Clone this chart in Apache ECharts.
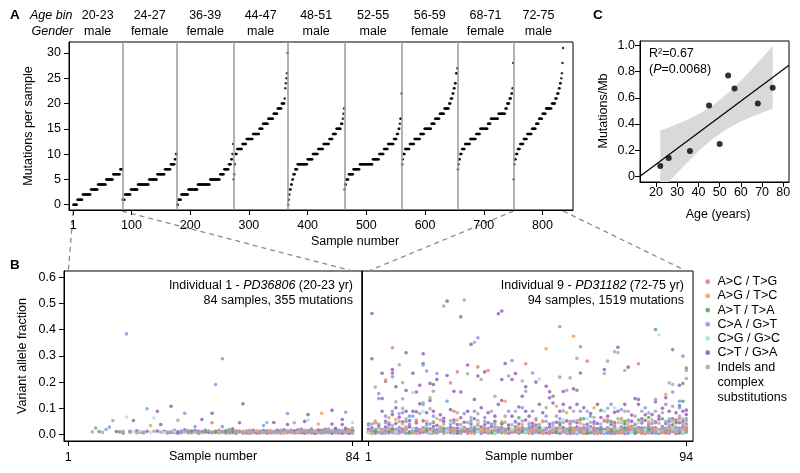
<!DOCTYPE html>
<html><head><meta charset="utf-8">
<script src="https://cdn.jsdelivr.net/npm/echarts@6/dist/echarts.min.js"></script>
<style>html,body{margin:0;padding:0;background:#fff}#c{width:800px;height:473px}</style>
</head><body><div id="c"></div>
<script>
// ================= DATA =================
// Panel A: age bins / genders per individual
const ageBins = ['20-23','24-27','36-39','44-47','48-51','52-55','56-59','68-71','72-75'];
const genders = ['male','female','female','male','male','male','female','female','male'];
// Panel A: sorted mutations per sample as run lengths [mutations, number of samples]
const runs1 = [[0,7],[1,9],[2,14],[3,12],[4,14],[5,12],[6,12],[7,4]];
const runs2 = [[1,4],[2,10],[3,12],[4,19],[5,14],[6,13],[7,10],[8,7],[9,2],[10,2]];
const runs3 = [[0,2],[1,5],[2,12],[3,16],[4,21],[5,17],[6,7],[7,8],[8,4],[9,2],[10,1],[12,1]];
const runs4 = [[5,1],[6,1],[8,1],[10,3],[11,9],[12,7],[13,11],[14,11],[15,6],[16,9],[17,9],[18,7],[19,7],[20,5],[21,1],[23,1],[24,1],[25,1],[26,1],[30,1]];
const runs5 = [[0,1],[1,1],[2,1],[3,2],[4,2],[5,2],[6,3],[7,4],[8,17],[9,9],[10,9],[11,9],[12,10],[13,6],[14,6],[15,8],[16,3],[17,1],[18,1],[19,1]];
const runs6 = [[3,1],[4,2],[5,4],[6,8],[7,11],[8,22],[9,11],[10,8],[11,7],[12,10],[13,5],[14,3],[15,2],[16,1],[17,2],[22,1]];
const runs7 = [[8,1],[9,1],[10,3],[11,8],[12,8],[13,10],[14,7],[15,12],[16,6],[17,8],[18,8],[19,8],[20,3],[21,3],[22,2],[23,2],[24,2],[26,2],[27,1]];
const runs8 = [[7,1],[8,1],[9,2],[10,3],[11,5],[12,9],[13,10],[14,7],[15,13],[16,5],[17,13],[18,12],[19,3],[20,4],[21,3],[22,2],[23,1],[28,1]];
const runs9 = [[5,1],[8,1],[9,2],[10,3],[11,4],[12,6],[13,6],[14,8],[15,7],[16,5],[17,6],[18,6],[19,10],[20,6],[21,3],[22,3],[23,2],[24,2],[25,1],[26,1],[28,1],[31,1]];
const xTicksA = [1,100,200,300,400,500,600,700,800];
const yTicksA = [0,5,10,15,20,25,30];

// Panel B: individual 1 [sample, VAF] per mutation class
const ind1AC = [[43,.045],[51,.013]];
const ind1AG = [[25,.034],[45,.013],[54,.008],[56,.014],[60,.012],[64,.008],[68,.01],[73,.012],[74,.04],[75,.081],[83,.013]];
const ind1AT = [[10,.011],[16,.01],[37,.013],[41,.009],[44,.01],[47,.012],[49,.012]];
const ind1CA = [[9,.025],[12,.019],[13,.028],[18,.384],[24,.098],[34,.013],[35,.081],[38,.03],[44,.191],[46,.289],[46,.03],[57,.012],[58,.034],[59,.014],[61,.01],[63,.016],[65,.08],[66,.011],[69,.013],[70,.01],[72,.022],[76,.016],[79,.013],[81,.011],[82,.085]];
const ind1CG = [[18,.067],[20,.01],[22,.012],[25,.008],[26,.063],[29,.007],[32,.012],[71,.055],[84,.046]];
const ind1CT = [[15,.011],[17,.006],[19,.012],[20,.053],[21,.014],[22,.009],[23,.007],[24,.012],[27,.089],[27,.013],[28,.038],[29,.012],[30,.006],[31,.108],[31,.008],[32,.016],[33,.01],[33,.005],[34,.009],[35,.018],[36,.007],[36,.014],[37,.01],[38,.015],[39,.012],[39,.005],[40,.057],[40,.011],[41,.016],[42,.008],[42,.011],[43,.081],[43,.007],[44,.012],[45,.009],[45,.016],[46,.011],[47,.014],[47,.006],[48,.009],[48,.018],[49,.022],[49,.007],[50,.012],[50,.005],[51,.045],[51,.011],[52,.117],[52,.007],[53,.01],[53,.006],[54,.012],[54,.005],[55,.011],[55,.016],[56,.009],[56,.006],[57,.01],[57,.006],[58,.011],[58,.015],[59,.012],[59,.005],[60,.01],[60,.007],[61,.046],[61,.009],[62,.013],[62,.016],[62,.01],[63,.011],[63,.006],[64,.012],[64,.018],[65,.038],[65,.008],[66,.01],[66,.016],[67,.011],[67,.006],[67,.014],[68,.012],[68,.017],[69,.01],[69,.007],[69,.02],[70,.05],[70,.008],[70,.005],[71,.076],[71,.009],[71,.015],[72,.016],[72,.012],[72,.006],[73,.01],[73,.007],[73,.004],[74,.013],[74,.017],[74,.01],[75,.012],[75,.016],[75,.006],[76,.011],[76,.007],[76,.02],[77,.009],[77,.017],[77,.011],[78,.092],[78,.04],[78,.008],[78,.005],[79,.012],[79,.018],[79,.024],[80,.01],[80,.007],[80,.016],[81,.057],[81,.038],[81,.008],[81,.005],[82,.013],[82,.017],[82,.024],[83,.01],[83,.007],[83,.018],[83,.004],[84,.012],[84,.016],[84,.01]];
const ind1ID = [[8,.01],[11,.008],[14,.053],[17,.012],[19,.008],[21,.006],[23,.01],[26,.012],[28,.009],[30,.01],[31,.011],[32,.007],[33,.054],[34,.006],[35,.01],[36,.012],[37,.006],[38,.009],[39,.008],[40,.007],[41,.012],[42,.014],[43,.01],[44,.008],[45,.006],[46,.008],[47,.01],[48,.013],[48,.005],[49,.01],[50,.008],[50,.015],[51,.009],[52,.012],[52,.005],[53,.014],[53,.009],[54,.016],[55,.007],[55,.01],[56,.012],[57,.013],[57,.008],[58,.007],[58,.01],[59,.046],[59,.008],[60,.015],[60,.011],[61,.012],[61,.006],[62,.009],[62,.006],[63,.008],[63,.013],[64,.01],[64,.005],[65,.011],[65,.014],[66,.007],[66,.012],[67,.045],[67,.008],[68,.009],[68,.006],[69,.014],[69,.011],[70,.012],[70,.016],[71,.013],[71,.006],[72,.011],[72,.008],[73,.015],[73,.011],[74,.009],[74,.006],[75,.008],[75,.013],[76,.014],[76,.01],[77,.013],[77,.006],[77,.021],[78,.011],[78,.015],[79,.009],[79,.006],[80,.014],[80,.011],[80,.005],[81,.012],[81,.016],[82,.009],[82,.006],[82,.012],[83,.014],[83,.011],[84,.025],[84,.008],[84,.005]];

// Panel B: individual 9 [sample, VAF] per mutation class
const ind9AC = [[4,.014],[11,.022],[16,.008],[25,.018],[30,.01],[35,.025],[44,.012],[49,.02],[54,.006],[63,.016],[67,.024],[73,.009],[77,.019],[81,.013],[84,.025],[88,.007],[94,.017],[8,.331],[25,.197],[27,.239],[33,.258],[36,.244],[47,.27],[65,.28],[80,.27],[26,.089],[50,.06],[60,.05],[71,.055],[85,.045],[92,.06],[40,.045],[15,.05]];
const ind9AG = [[2,.004],[5,.015],[7,.02],[9,.01],[12,.024],[14,.006],[17,.018],[19,.011],[22,.027],[24,.008],[26,.016],[29,.022],[31,.005],[34,.019],[36,.012],[38,.025],[41,.007],[43,.017],[45,.028],[48,.01],[50,.021],[52,.006],[55,.014],[57,.026],[59,.009],[61,.019],[64,.012],[66,.024],[68,.005],[71,.017],[73,.022],[75,.01],[78,.027],[80,.014],[82,.006],[85,.02],[87,.012],[89,.025],[91,.008],[93,.018],[6,.209],[53,.327],[61,.375],[88,.153],[54,.625],[7,.064],[9,.057],[21,.061],[41,.127],[56,.108],[59,.083],[67,.102],[74,.045],[75,.062],[3,.045],[11,.04],[18,.05],[27,.055],[33,.042],[40,.048],[46,.038],[52,.05],[63,.043],[70,.055],[77,.04],[83,.048],[90,.052],[94,.036]];
const ind9AT = [[3,.012],[8,.02],[13,.007],[18,.016],[23,.024],[27,.01],[32,.018],[37,.006],[42,.022],[46,.013],[51,.027],[56,.009],[60,.017],[65,.005],[69,.021],[72,.012],[76,.026],[79,.008],[83,.018],[86,.011],[90,.023],[92,.006],[85,.401],[90,.324],[94,.254],[93,.195],[93,.127],[62,.169],[55,.146],[45,.064],[69,.092],[64,.06],[72,.05],[57,.045],[40,.04],[80,.055],[87,.06],[91,.045],[83,.065],[76,.05]];
const ind9CA = [[4,.156],[4,.137],[8,.22],[17,.265],[18,.242],[21,.233],[17,.115],[24,.127],[33,.369],[43,.282],[42,.223],[49,.235],[57,.411],[57,.219],[63,.335],[90,.162],[92,.127],[93,.299],[6,.07],[8,.089],[10,.079],[11,.083],[13,.07],[14,.07],[20,.07],[29,.079],[32,.089],[35,.065],[42,.089],[46,.102],[49,.089],[53,.07],[57,.06],[63,.089],[66,.07],[72,.115],[75,.095],[82,.102],[88,.115],[92,.102],[94,.06],[2,.04],[7,.045],[12,.05],[19,.04],[26,.045],[31,.052],[37,.04],[44,.05],[48,.038],[55,.045],[61,.05],[67,.04],[71,.048],[77,.055],[84,.042],[89,.05]];
const ind9CG = [[1,.006],[4,.018],[9,.01],[14,.022],[19,.008],[24,.015],[28,.026],[33,.012],[38,.006],[43,.02],[47,.01],[52,.025],[57,.014],[62,.007],[66,.019],[70,.011],[74,.024],[78,.008],[82,.017],[86,.012],[90,.022],[93,.009],[14,.16],[86,.38],[51,.212],[17,.089],[70,.089],[73,.102],[65,.06],[75,.05],[80,.045],[33,.05],[25,.045],[58,.055]];
const ind9CT = [[2,.462],[2,.289],[5,.234],[6,.203],[5,.137],[8,.248],[8,.235],[9,.182],[12,.312],[12,.168],[14,.234],[16,.188],[17,.308],[17,.271],[19,.195],[20,.191],[21,.21],[15,.162],[19,.13],[24,.509],[28,.449],[24,.225],[26,.165],[28,.162],[30,.265],[31,.344],[33,.223],[35,.239],[32,.134],[39,.461],[40,.471],[41,.271],[40,.21],[44,.233],[43,.21],[47,.182],[50,.2],[53,.184],[54,.163],[63,.235],[61,.174],[58,.164],[74,.333],[70,.248],[77,.257],[92,.188],[94,.093],[88,.14],[85,.125],[80,.134],[79,.137],
[5,.089],[8,.076],[9,.102],[10,.066],[12,.089],[13,.053],[14,.089],[15,.087],[16,.117],[18,.083],[20,.089],[22,.075],[23,.062],[25,.095],[28,.064],[30,.089],[32,.06],[34,.102],[36,.083],[38,.07],[39,.115],[40,.13],[43,.07],[45,.105],[46,.146],[47,.089],[48,.07],[51,.115],[52,.083],[54,.14],[55,.12],[57,.089],[58,.115],[60,.102],[62,.115],[64,.102],[66,.08],[68,.115],[69,.065],[71,.07],[73,.085],[74,.089],[76,.115],[78,.074],[80,.115],[81,.06],[82,.075],[84,.076],[86,.07],[87,.1],[89,.089],[91,.083],[93,.089],[94,.076],[90,.06],[92,.11],
[1,.04],[3,.045],[4,.035],[6,.05],[7,.038],[9,.042],[11,.048],[13,.036],[15,.044],[17,.052],[18,.04],[20,.046],[21,.035],[23,.05],[25,.041],[26,.055],[27,.038],[29,.047],[31,.04],[33,.052],[35,.037],[36,.045],[38,.05],[40,.042],[42,.036],[44,.048],[45,.04],[47,.055],[49,.043],[50,.036],[52,.05],[54,.04],[56,.047],[57,.036],[59,.052],[60,.041],[62,.045],[63,.056],[65,.039],[67,.048],[68,.042],[70,.052],[72,.038],[73,.046],[75,.055],[76,.04],[78,.05],[79,.037],[81,.044],[82,.054],[83,.04],[85,.048],[86,.058],[88,.042],[89,.05],[90,.037],[91,.055],[92,.045],[93,.05],[94,.04]];
const ind9ID = [[3,.181],[10,.266],[11,.198],[9,.125],[11,.136],[17,.121],[19,.14],[20,.165],[23,.49],[29,.513],[30,.232],[32,.352],[34,.21],[46,.204],[62,.291],[60,.216],[59,.169],[71,.28],[73,.316],[74,.312],[70,.233],[76,.244],[94,.244],[94,.214],[89,.197],[90,.191],[85,.134],[38,.146],[47,.165],
[3,.051],[11,.099],[12,.06],[16,.08],[19,.098],[22,.055],[27,.083],[31,.065],[33,.079],[37,.089],[41,.07],[44,.089],[50,.055],[53,.102],[56,.07],[58,.09],[61,.089],[63,.06],[65,.089],[67,.065],[71,.1],[74,.06],[76,.089],[77,.089],[79,.07],[81,.089],[83,.083],[85,.089],[87,.083],[89,.06],[90,.108],[92,.07],[93,.06],
[1,.035],[4,.04],[6,.045],[8,.035],[10,.05],[13,.04],[15,.055],[18,.036],[20,.048],[23,.04],[25,.052],[28,.038],[30,.046],[33,.035],[35,.05],[38,.04],[41,.047],[43,.037],[46,.052],[48,.044],[51,.038],[53,.05],[55,.035],[58,.046],[60,.04],[62,.053],[64,.036],[66,.047],[69,.04],[71,.05],[73,.036],[75,.045],[77,.052],[79,.04],[81,.05],[83,.037],[84,.055],[86,.043],[88,.05],[89,.036],[91,.048],[93,.04],[94,.053]];
// Panel B: individual 9 low-VAF band, one entry per sample (sample = index + 1)
const ind9LowCT = [[.008,.02],[.012,.026],[.006,.016],[.01,.024],[.005,.018],[.011,.028],[.007,.015],[.013,.022],[.006,.019],[.009,.027],
[.012,.017],[.005,.021],[.01,.029],[.007,.014],[.012,.024],[.006,.019],[.009,.026],[.013,.016],[.005,.022],[.01,.03],
[.008,.018],[.012,.025],[.006,.015],[.011,.021],[.007,.028],[.013,.018],[.005,.024],[.009,.016],[.012,.027],[.006,.02],
[.01,.015],[.007,.025],[.013,.019],[.005,.028],[.01,.017],[.008,.023],[.012,.03],[.006,.016],[.011,.021],[.007,.026],
[.013,.018],[.005,.024],[.009,.015],[.012,.029],[.006,.02],[.01,.026],[.008,.017],[.012,.023],[.005,.03],[.011,.019],
[.007,.025],[.013,.016],[.006,.022],[.01,.028],[.008,.018],[.012,.024],[.005,.015],[.011,.027],[.007,.02],[.013,.026,.004],
[.006,.017,.023],[.01,.028,.004],[.008,.019,.014],[.012,.025,.005],[.005,.021,.016],[.011,.029,.007],[.007,.018,.024],[.013,.022,.004],[.006,.027,.015],[.01,.02,.005],
[.008,.026,.016],[.012,.018,.004],[.005,.023,.029],[.011,.016,.007],[.007,.028,.02],[.013,.021,.004],[.006,.025,.017],[.01,.03,.014],[.008,.019,.005],[.012,.027,.022],
[.005,.017,.024],[.011,.022,.004],[.007,.029,.015],[.013,.019,.006],[.006,.026,.021],[.01,.016,.004],[.008,.024,.03],[.012,.02,.006],[.005,.028,.016],[.011,.018,.023],
[.007,.025,.004],[.013,.021,.016],[.006,.029,.009],[.01,.019,.024]];
const ind9LowID = [[.01],[.015,.004],[.02],[.007,.025],[.012],[.004,.018],[.022],[.009,.014],[.016],[.005,.027],
[.011],[.019,.006],[.008],[.024,.013],[.004],[.017,.01],[.026],[.007,.015],[.012],[.02,.005],
[.009],[.014,.028],[.006],[.021,.011],[.016],[.004,.025],[.013],[.008,.019],[.023],[.01,.006],
[.017],[.005,.028],[.012],[.02,.009],[.015],[.006,.024],[.011],[.018,.004],[.027],[.008,.014],
[.021],[.005,.016],[.012],[.025,.009],[.007],[.018,.013],[.022],[.004,.015],[.01],[.026,.007],
[.014,.02],[.006,.011],[.019,.025],[.009,.004],[.016,.022],[.012,.006],[.024,.017],[.008,.013],[.02,.005],[.015,.027],
[.005,.012],[.021,.018],[.01,.026],[.016,.006],[.007,.023],[.013,.019],[.025,.004],[.009,.015],[.018,.022],[.006,.011],
[.022,.017],[.011,.005],[.017,.024],[.005,.013],[.02,.028],[.012,.008],[.026,.016],[.008,.021],[.015,.004],[.023,.012],
[.006,.018],[.019,.025],[.011,.007],[.025,.015],[.009,.021],[.016,.005],[.013,.027],[.021,.01],[.007,.017],[.024,.012],
[.01,.028],[.018,.006],[.014,.022],[.027,.009]];
const ind9LowCA = [[.012],[.018],[.006],[.022],[.009],[.015],[.025],[.007],[.013],[.019],
[.01],[.028],[.005],[.016],[.021],[.008],[.014],[.024],[.011],[.017],
[.006],[.027],[.012],[.019],[.009],[.023],[.015],[.005],[.02],[.013],
[.026],[.008],[.017],[.011],[.022],[.006],[.014],[.029],[.01],[.018],
[.007],[.024],[.013],[.016],[.005],[.021],[.011],[.027],[.008],[.015],
[.019],[.006],[.023],[.012],[.017],[.009],[.025],[.014],[.007],[.02,.011],
[.013,.024],[.005,.018],[.016,.01],[.022,.007],[.011,.027],[.019,.014],[.008,.023],[.015,.006],[.026,.012],[.01,.018],
[.017,.005],[.021,.013],[.007,.025],[.014,.009],[.024,.016],[.012,.02],[.006,.028],[.018,.011],[.023,.008],[.009,.015],
[.02,.026],[.013,.006],[.027,.017],[.011,.022],[.016,.008],[.005,.019],[.022,.013],[.015,.025],[.008,.011],[.019,.024],
[.012,.006],[.025,.016],[.01,.021],[.017,.013]];
const classNames = ['A>C / T>G','A>G / T>C','A>T / T>A','C>A / G>T','C>G / G>C','C>T / G>A','Indels and complex substitutions'];

// Panel C
const ages = [22,26,36,45,50,54,57,68,75];
const mutPerMb = [0.079,0.14,0.194,0.541,0.247,0.77,0.671,0.556,0.676];
const fitX = [12.46,82.69];
const fitY = [0.0,0.849];
const bandX = [22,26,30,35,40,45,48,52,56,60,65,70,75];
const bandUpper = [0.35,0.373,0.399,0.434,0.475,0.523,0.557,0.609,0.667,0.73,0.816,0.904,0.996];
const bandLower = [-0.12,-0.047,0.025,0.11,0.191,0.263,0.301,0.347,0.385,0.418,0.454,0.486,0.516];

// ================= STYLE =================
const FF = 'Liberation Sans, Arial, Helvetica, sans-serif';
const FS = 12.5;
const classColors = ['#E8837D','#F6A45A','#5FA65F','#7E9DEA','#A8E5E5','#9A5FBD','#A9A9A9'];

// ================= BUILD =================
const allRuns = [runs1,runs2,runs3,runs4,runs5,runs6,runs7,runs8,runs9];
const dataA = [];
const bounds = [];
let s = 1;
allRuns.forEach(runs => {
  const start = s;
  runs.forEach(([v,n]) => { for (let k=0;k<n;k++){ dataA.push([s,v]); s++; } });
  bounds.push([start, s-1]);
});
const sepLines = bounds.slice(0,-1).map(b => ({xAxis: b[1]+0.5}));

function expandLow(arr){ const out=[]; arr.forEach((vals,i)=>vals.forEach(v=>out.push([i+1,v]))); return out; }
const ind1Sets = [ind1AC,ind1AG,ind1AT,ind1CA,ind1CG,ind1CT,ind1ID];
const ind9Sets = [ind9AC,ind9AG,ind9AT,ind9CA.concat(expandLow(ind9LowCA)),ind9CG,ind9CT.concat(expandLow(ind9LowCT)),ind9ID.concat(expandLow(ind9LowID))];
const drawOrder = [5,3,6,0,1,2,4];

function axisCommon(extra){
  return Object.assign({
    type:'value', splitLine:{show:false},
    axisLine:{show:true, onZero:false, lineStyle:{color:'#000', width:1}},
    axisTick:{show:true, length:5, inside:false, lineStyle:{color:'#000', width:1}},
    axisLabel:{color:'#000', fontSize:FS, fontFamily:FF},
  }, extra);
}
function ax(min,max,ticks,margin,fmt,gridIndex,hide){
  const a = axisCommon({gridIndex, min, max});
  if (hide){ a.axisTick = {show:false}; a.axisLabel = {show:false}; return a; }
  a.axisTick = Object.assign({}, a.axisTick, {customValues:ticks});
  a.axisLabel = Object.assign({}, a.axisLabel, {customValues:ticks, margin, formatter: fmt || (v=>String(v))});
  return a;
}
const gridStyle = {show:true, borderColor:'#000', borderWidth:1, backgroundColor:'transparent', containLabel:false};

const series = [];
series.push({
  type:'scatter', xAxisIndex:0, yAxisIndex:0, data:dataA, symbolSize:2.5,
  itemStyle:{color:'#000'}, silent:true, z:3,
  markLine:{silent:true, symbol:'none', label:{show:false}, animation:false,
    lineStyle:{color:'#9a9a9a', width:1.5, type:'solid'}, data:sepLines}
});
drawOrder.forEach(ci => {
  series.push({type:'scatter', name:classNames[ci], xAxisIndex:1, yAxisIndex:1, data:ind1Sets[ci], symbolSize:3.6,
    itemStyle:{color:classColors[ci], opacity:0.85}, silent:true});
  series.push({type:'scatter', name:classNames[ci], xAxisIndex:2, yAxisIndex:2, data:ind9Sets[ci], symbolSize:3.6,
    itemStyle:{color:classColors[ci], opacity:0.85}, silent:true});
});
const yMinC = -0.0436;
series.push({
  type:'custom', xAxisIndex:3, yAxisIndex:3, data:[0], silent:true, z:1,
  renderItem:(params, api) => {
    const pts = [];
    bandX.forEach((x,i)=>pts.push(api.coord([x, bandUpper[i]])));
    for (let i=bandX.length-1;i>=0;i--) pts.push(api.coord([bandX[i], Math.max(bandLower[i], yMinC)]));
    return {type:'polygon', shape:{points:pts}, style:{fill:'#d9d9d9', stroke:'none'}};
  }
});
series.push({type:'line', xAxisIndex:3, yAxisIndex:3, data:fitX.map((x,i)=>[x,fitY[i]]), symbol:'none',
  lineStyle:{color:'#000', width:1.2}, silent:true, z:2});
series.push({type:'scatter', xAxisIndex:3, yAxisIndex:3, data:ages.map((a,i)=>[a,mutPerMb[i]]), symbolSize:6,
  itemStyle:{color:'#000'}, silent:true, z:3});

const option = {
  animation:false,
  backgroundColor:'#fff',
  textStyle:{fontFamily:FF},
  grid:[
    Object.assign({left:69, top:42, width:504, height:168}, gridStyle),
    Object.assign({left:64, top:271, width:298, height:170}, gridStyle),
    Object.assign({left:362, top:271, width:331, height:170}, gridStyle),
    Object.assign({left:640, top:41, width:149, height:141}, gridStyle)
  ],
  xAxis:[
    ax(-6.32, 851.9, xTicksA, 9.5, null, 0),
    ax(-0.26, 86.77, [1,84], 10, null, 1),
    ax(-0.9, 95.96, [1,94], 10, null, 2),
    ax(12.46, 82.69, [20,30,40,50,60,70,80], 4, null, 3)
  ],
  yAxis:[
    ax(-1.05, 32.17, yTicksA, 8, null, 0),
    ax(-0.0248, 0.624, [0,0.1,0.2,0.3,0.4,0.5,0.6], 8, v=>v.toFixed(1), 1),
    ax(-0.0248, 0.624, [], 8, null, 2, true),
    ax(yMinC, 1.034, [0,0.2,0.4,0.6,0.8,1], 5, v=>(v===0?'0':v.toFixed(1)), 3)
  ],
  series
};
option.yAxis[2].axisLine = {show:true, onZero:false, lineStyle:{color:'#000'}};

const chart = echarts.init(document.getElementById('c'), null, {renderer:'canvas'});
chart.setOption(option);

// ================= ANNOTATIONS =================
const P = (g, p) => chart.convertToPixel({gridIndex:g}, p);
const G = [];
function txt(x,y,text,opt){
  G.push({type:'text', x, y, silent:true, rotation:(opt&&opt.rot)||0, z:10,
    style:Object.assign({text, fill:'#000', fontSize:FS, fontFamily:FF, align:'left', verticalAlign:'middle'}, opt&&opt.style)});
}
// panel letters
txt(10, 15.5, 'A', {style:{fontWeight:'bold', fontSize:13.5}});
txt(10, 265.5, 'B', {style:{fontWeight:'bold', fontSize:13.5}});
txt(593, 15.5, 'C', {style:{fontWeight:'bold', fontSize:13.5}});
// panel A header
txt(30, 15.7, 'Age bin', {style:{fontStyle:'italic'}});
txt(31.5, 31.7, 'Gender', {style:{fontStyle:'italic'}});
bounds.forEach((b,i) => {
  const cx = P(0, [(b[0]+b[1])/2, 0])[0];
  txt(cx, 15.7, ageBins[i], {style:{align:'center'}});
  txt(cx, 31.7, genders[i], {style:{align:'center'}});
});
txt(355, 241.7, 'Sample number', {style:{align:'center'}});
txt(29, 126, 'Mutations per sample', {rot:Math.PI/2, style:{align:'center'}});
// panel B
txt(22.7, 356, 'Variant allele fraction', {rot:Math.PI/2, style:{align:'center'}});
txt(213, 456.7, 'Sample number', {style:{align:'center'}});
txt(529, 456.7, 'Sample number', {style:{align:'center'}});
const richI = {i:{fontStyle:'italic', fontSize:FS, fontFamily:FF, fill:'#000'}, n:{fontSize:FS, fontFamily:FF, fill:'#000'}};
txt(353, 285.7, '{n|Individual 1 - }{i|PD36806}{n| (20-23 yr)}', {style:{align:'right', rich:richI}});
txt(353, 300.5, '84 samples, 355 mutations', {style:{align:'right'}});
txt(684, 285.7, '{n|Individual 9 - }{i|PD31182}{n| (72-75 yr)}', {style:{align:'right', rich:richI}});
txt(684, 300.5, '94 samples, 1519 mutations', {style:{align:'right'}});
// legend
const legY = [281.7, 295.9, 310.1, 324.3, 338.5, 352.7, 367.1];
classNames.forEach((n,i) => {
  G.push({type:'circle', silent:true, z:10, shape:{cx:707.7, cy:legY[i], r:2.4}, style:{fill:classColors[i], opacity:0.9}});
});
['A>C / T>G','A>G / T>C','A>T / T>A','C>A / G>T','C>G / G>C','C>T / G>A','Indels and'].forEach((t,i)=>txt(717.5, legY[i], t));
txt(717.5, 382.1, 'complex');
txt(717.5, 397.1, 'substitutions');
// panel C
txt(603.3, 111, 'Mutations/Mb', {rot:Math.PI/2, style:{align:'center'}});
txt(718, 215, 'Age (years)', {style:{align:'center'}});
txt(649, 53.3, 'R\u00B2=0.67');
txt(649, 69.5, '{n|(}{i|P}{n|=0.0068)}', {style:{rich:richI}});
// dashed connectors from panel A to panel B
const aBottom = P(0, [1, -1.05])[1] + 1;
const bTop = P(1, [1, 0.624])[1];
const conn = [
  [P(0,[1,0])[0], P(1,[1,0])[0]],
  [P(0,[84,0])[0], P(1,[84,0])[0]],
  [P(0,[bounds[8][0],0])[0], P(2,[1,0])[0]],
  [P(0,[bounds[8][1],0])[0], P(2,[94,0])[0]]
];
conn.forEach(([xa, xb]) => {
  G.push({type:'line', silent:true, z:0, shape:{x1:xa, y1:aBottom, x2:xb, y2:bTop},
    style:{stroke:'#8c8c8c', lineWidth:1.3, lineDash:[5,4]}});
});
chart.setOption({graphic:G});
</script>
</body></html>
